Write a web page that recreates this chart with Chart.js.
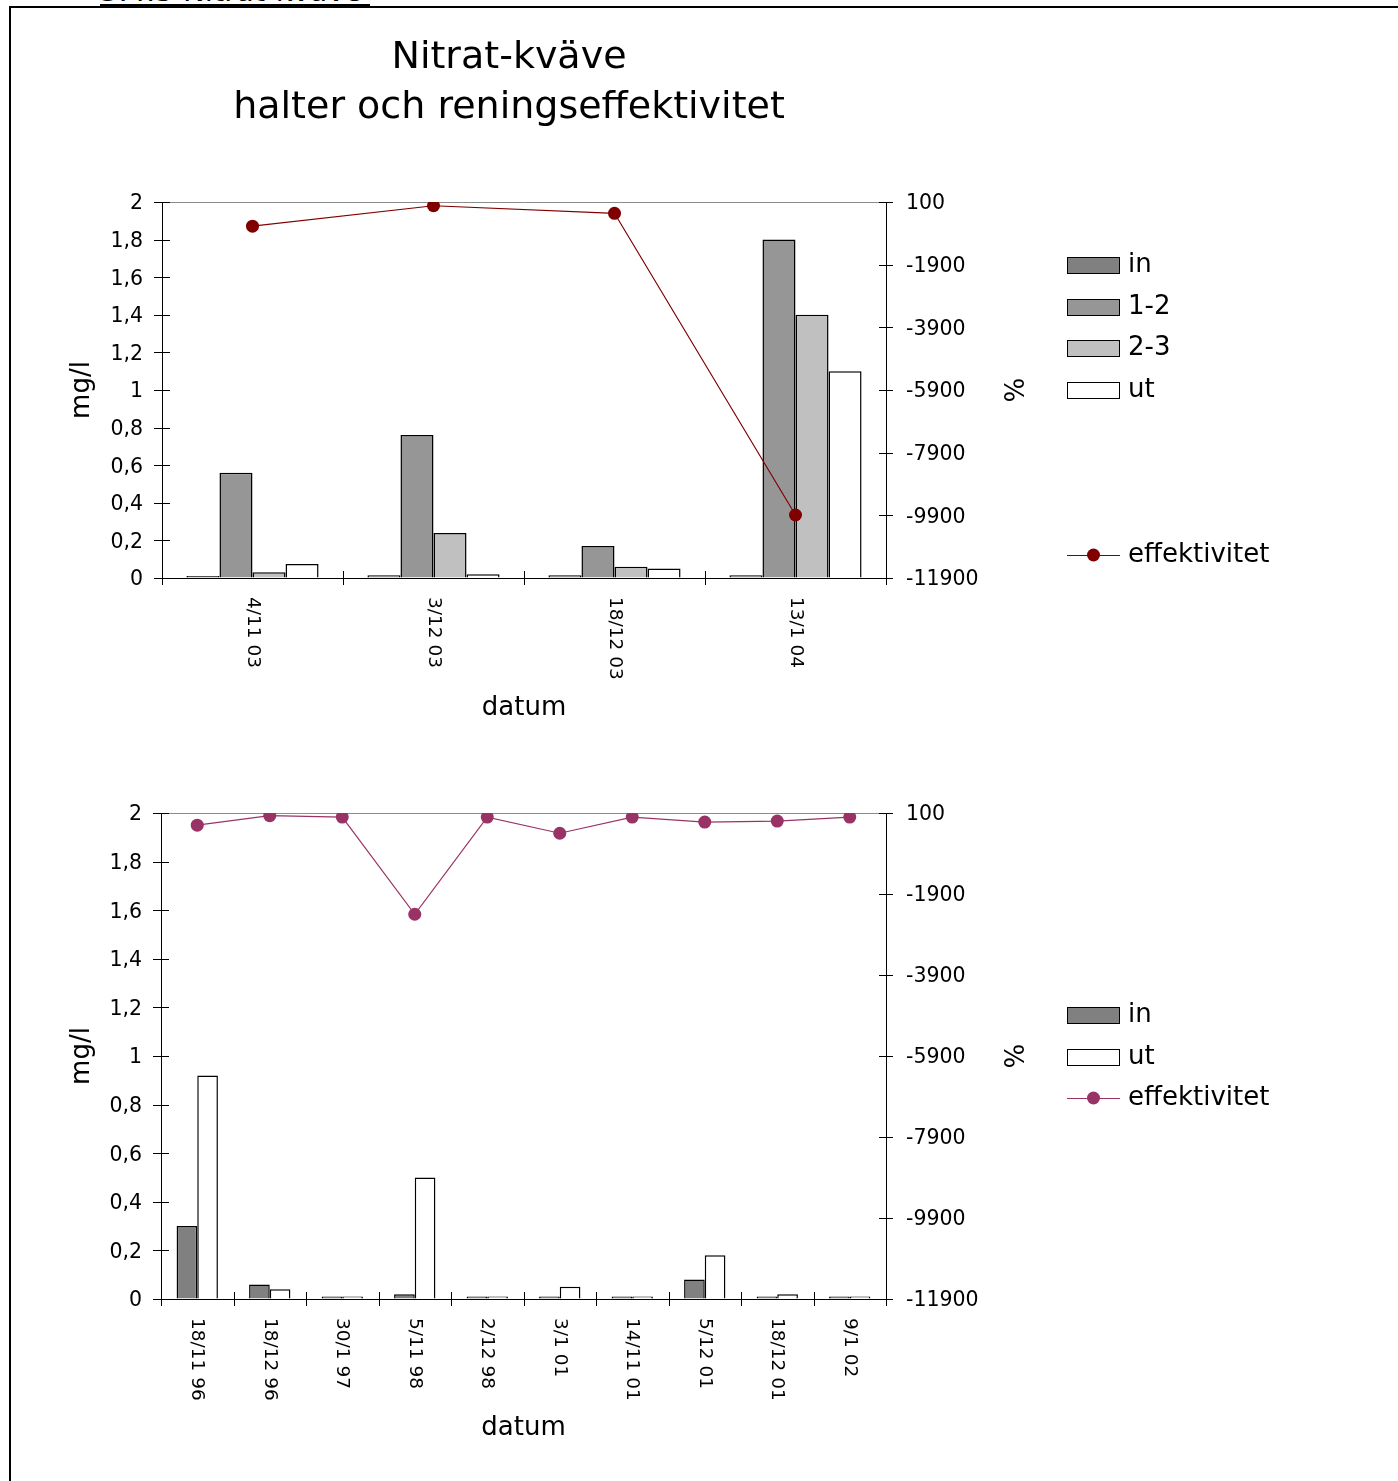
<!DOCTYPE html>
<html>
<head>
<meta charset="utf-8">
<title>Nitrat-kväve</title>
<script src="https://cdn.jsdelivr.net/npm/chart.js@4/dist/chart.umd.min.js"></script>
<style>
  html, body { margin: 0; padding: 0; background: #fff; overflow: hidden; }
  #page { position: relative; width: 1398px; height: 1481px; overflow: hidden; font-family: 'DejaVu Sans', sans-serif; }
  #frame { position: absolute; left: 9px; top: 6px; right: -10px; bottom: -10px; border-top: 2px solid #000; border-left: 2px solid #000; }
  #heading { position: absolute; left: 100px; top: -23px; font-size: 29px; line-height: 29px; white-space: nowrap; color: #000; }
  #rule { position: absolute; left: 100px; top: 4px; width: 270px; height: 2px; background: #000; }
  canvas { position: absolute; left: 0; }
  #c1 { top: 0; }
  #c2 { top: 740px; }
</style>
</head>
<body>
<div id="page">
  <div id="frame"></div>
  <div id="heading">3.4.5 Nitrat-kväve</div>
  <div id="rule"></div>
  <canvas id="c1" width="1398" height="740"></canvas>
  <canvas id="c2" width="1398" height="741"></canvas>
</div>
<script>
// ---- Upper chart: wetland steps 2003/04 ----
const datesA  = ['4/11 03', '3/12 03', '18/12 03', '13/1 04'];
const inA     = [0.01, 0.015, 0.015, 0.015];
const step12A = [0.56, 0.76, 0.17, 1.80];
const step23A = [0.03, 0.24, 0.06, 1.40];
const utA     = [0.075, 0.02, 0.05, 1.10];
const effA    = [-670, -20, -260, -9890];

// ---- Lower chart: inlet/outlet 1996–2002 ----
const datesB = ['18/11 96', '18/12 96', '30/1 97', '5/11 98', '2/12 98', '3/1 01', '14/11 01', '5/12 01', '18/12 01', '9/1 02'];
const inB    = [0.30, 0.06, 0.01, 0.02, 0.01, 0.01, 0.01, 0.08, 0.01, 0.01];
const utB    = [0.92, 0.04, 0.01, 0.50, 0.01, 0.05, 0.01, 0.18, 0.02, 0.01];
const effB   = [-200, 33, 0, -2400, 0, -400, 0, -125, -100, 0];

// ---- Axis tick values ----
const mgTicks  = [0, 0.2, 0.4, 0.6, 0.8, 1, 1.2, 1.4, 1.6, 1.8, 2];
const pctTicks = [100, -1900, -3900, -5900, -7900, -9900, -11900];

const FONT = "'DejaVu Sans', sans-serif";
Chart.defaults.font.family = FONT;
Chart.defaults.color = '#000';

// Short tick marks that cross each axis line
const crossTicks = {
  id: 'crossTicks',
  afterDraw(chart) {
    const ctx = chart.ctx;
    const {x, y, y1} = chart.scales;
    ctx.save();
    ctx.strokeStyle = '#000';
    ctx.lineWidth = 1;
    ctx.beginPath();
    for (let i = 0; i <= chart.data.labels.length; i++) {
      const px = Math.round(x.getPixelForValue(i - 0.5)) + 0.5;
      ctx.moveTo(px, x.top - 7); ctx.lineTo(px, x.top + 7);
    }
    y.ticks.forEach(t => {
      const py = Math.round(y.getPixelForValue(t.value)) + 0.5;
      ctx.moveTo(y.right - 8, py); ctx.lineTo(y.right + 8, py);
    });
    y1.ticks.forEach(t => {
      const py = Math.round(y1.getPixelForValue(t.value)) + 0.5;
      ctx.moveTo(y1.left - 7, py); ctx.lineTo(y1.left + 7, py);
    });
    ctx.stroke();
    ctx.restore();
  }
};

// Category labels turned a quarter clockwise under the x axis
const xLabels = {
  id: 'xLabels',
  afterDraw(chart, args, opts) {
    const ctx = chart.ctx;
    const x = chart.scales.x;
    ctx.save();
    ctx.fillStyle = '#000';
    ctx.font = `${opts.size}px ${FONT}`;
    ctx.textAlign = 'left';
    ctx.textBaseline = 'middle';
    chart.data.labels.forEach((lab, i) => {
      ctx.save();
      ctx.translate(x.getPixelForValue(i), x.top + opts.gap);
      ctx.rotate(Math.PI / 2);
      ctx.fillText(lab, 0, 0);
      ctx.restore();
    });
    ctx.restore();
  }
};

// Legend column to the right of the plot
const sideLegend = {
  id: 'sideLegend',
  afterDraw(chart, args, opts) {
    const ctx = chart.ctx;
    ctx.save();
    ctx.font = `26px ${FONT}`;
    ctx.textAlign = 'left';
    ctx.textBaseline = 'middle';
    chart.data.datasets.forEach((ds, i) => {
      const cy = opts.rows[i];
      if (ds.type === 'line') {
        ctx.strokeStyle = ds.borderColor;
        ctx.lineWidth = 1;
        ctx.beginPath();
        ctx.moveTo(opts.x, Math.round(cy) + 0.5);
        ctx.lineTo(opts.x + opts.w, Math.round(cy) + 0.5);
        ctx.stroke();
        ctx.fillStyle = ds.pointBackgroundColor;
        ctx.beginPath();
        ctx.arc(opts.x + opts.w / 2, cy, 6.5, 0, Math.PI * 2);
        ctx.fill();
      } else {
        const top = Math.round(cy - 8.5);
        ctx.fillStyle = ds.backgroundColor;
        ctx.fillRect(opts.x, top, opts.w, 17);
        ctx.strokeStyle = '#000';
        ctx.lineWidth = 1;
        ctx.strokeRect(opts.x + 0.5, top + 0.5, opts.w - 1, 16);
      }
      ctx.fillStyle = '#000';
      ctx.fillText(ds.label, opts.textX, cy);
    });
    ctx.restore();
  }
};

Chart.register(crossTicks, xLabels, sideLegend);

function fmtMg(v) {
  return String(Math.round(v * 10) / 10).replace('.', ',');
}

function barSet(label, data, color, pct) {
  return {
    type: 'bar', label, data, yAxisID: 'y', order: 1,
    backgroundColor: color, borderColor: '#000', borderWidth: 1.5,
    categoryPercentage: pct, barPercentage: 1.0
  };
}

function lineSet(data, color) {
  return {
    type: 'line', label: 'effektivitet', data, yAxisID: 'y1', order: 0,
    borderColor: color, borderWidth: 1.2, backgroundColor: color,
    pointBackgroundColor: color, pointBorderColor: color,
    pointRadius: 6.5, pointBorderWidth: 0, pointHoverRadius: 6.5, tension: 0, fill: false
  };
}

function makeOptions(cfg) {
  return {
    responsive: false,
    animation: false,
    events: [],
    layout: { padding: { left: 0, right: 380, top: cfg.padTop, bottom: 0 } },
    plugins: {
      legend: { display: false },
      tooltip: { enabled: false },
      title: cfg.title,
      sideLegend: cfg.legend,
      xLabels: { size: 18.5, gap: 19 }
    },
    scales: {
      x: {
        type: 'category', offset: true,
        grid: { display: false },
        border: { display: true, color: '#000', width: 1 },
        ticks: { display: false },
        title: { display: true, text: 'datum', font: { size: 26 }, padding: { top: 0, bottom: cfg.datumPad } },
        afterFit(s) { s.height = cfg.xHeight; }
      },
      y: {
        type: 'linear', position: 'left', min: 0, max: 2,
        afterBuildTicks(s) { s.ticks = mgTicks.map(v => ({ value: v })); },
        grid: {
          display: true, drawOnChartArea: true, drawTicks: false,
          color: c => (c.tick && c.tick.value === 2 ? '#8c8c8c' : 'rgba(0,0,0,0)')
        },
        border: { display: true, color: '#000', width: 1 },
        ticks: { font: { size: 20.5 }, padding: 19, labelOffset: 2, callback: v => fmtMg(v) },
        title: { display: true, text: 'mg/l', font: { size: 26 }, padding: { top: 66.4, bottom: 0 } },
        afterFit(s) { s.width = cfg.leftWidth; }
      },
      y1: {
        type: 'linear', position: 'right', min: -11900, max: 100,
        afterBuildTicks(s) { s.ticks = pctTicks.map(v => ({ value: v })); },
        grid: { display: false },
        border: { display: true, color: '#000', width: 1 },
        ticks: { font: { size: 20.5 }, padding: 12, labelOffset: 2, callback: v => String(v) },
        title: { display: true, text: '%', font: { size: 26, lineHeight: 0.4 }, padding: { top: 1.8, bottom: 0 } },
        afterFit(s) { s.width = 1018 - 886; }
      }
    }
  };
}

new Chart(document.getElementById('c1'), {
  data: {
    labels: datesA,
    datasets: [
      barSet('in', inA, '#808080', 0.73),
      barSet('1-2', step12A, '#969696', 0.73),
      barSet('2-3', step23A, '#c0c0c0', 0.73),
      barSet('ut', utA, '#ffffff', 0.73),
      lineSet(effA, '#800000')
    ]
  },
  options: makeOptions({
    padTop: 0,
    leftWidth: 162,
    xHeight: 162,
    datumPad: 16.4,
    title: {
      display: true,
      text: ['Nitrat-kväve', 'halter och reningseffektivitet'],
      font: { size: 38, weight: 'normal', lineHeight: 50 / 38 },
      color: '#000',
      padding: { top: 33, bottom: 69 }
    },
    legend: { x: 1067, w: 53, textX: 1128, rows: [265, 307, 348, 390, 555] }
  })
});

new Chart(document.getElementById('c2'), {
  data: {
    labels: datesB,
    datasets: [
      barSet('in', inB, '#808080', 0.57),
      barSet('ut', utB, '#ffffff', 0.57),
      lineSet(effB, '#993366')
    ]
  },
  options: makeOptions({
    padTop: 73,
    leftWidth: 161,
    xHeight: 182,
    datumPad: 37.4,
    title: { display: false },
    legend: { x: 1067, w: 53, textX: 1128, rows: [275, 317, 358] }
  })
});
</script>
</body>
</html>
